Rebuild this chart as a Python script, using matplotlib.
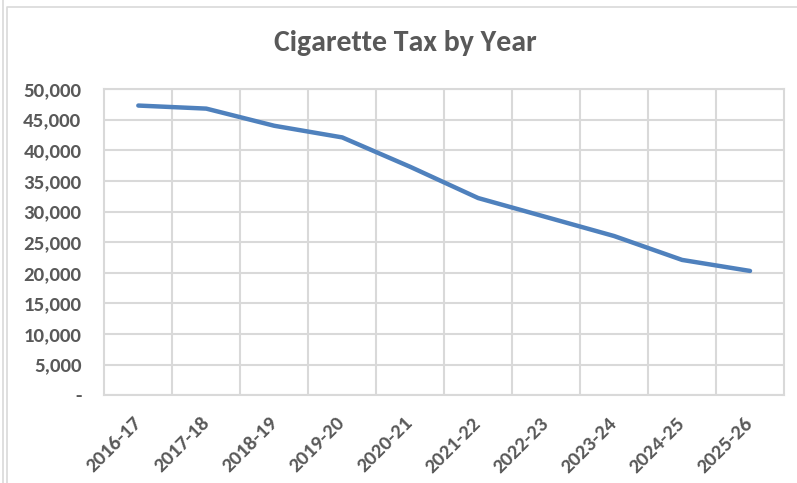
import matplotlib
matplotlib.use("Agg")
import matplotlib.pyplot as plt
from matplotlib.lines import Line2D
from matplotlib.ticker import FuncFormatter, MultipleLocator

# cigarette tax revenue by fiscal year
years = ["2016-17", "2017-18", "2018-19", "2019-20", "2020-21",
         "2021-22", "2022-23", "2023-24", "2024-25", "2025-26"]
tax = [47300, 46800, 44000, 42100, 37300, 32200, 29100, 26000, 22100, 20300]

text_col = "#595959"
grid_col = "#d9d9d9"
plt.rcParams["font.family"] = ["Carlito", "DejaVu Sans"]
plt.rcParams["font.weight"] = "bold"

fig = plt.figure(figsize=(7.97, 4.83), dpi=100)
ax = fig.add_axes([0.1309, 0.1816, 0.8528, 0.6341])

x = list(range(len(years)))
ax.plot(x, tax, color="#4f81bd", lw=3.2, solid_capstyle="round", solid_joinstyle="round", zorder=3)

ax.set_xlim(-0.5, len(years) - 0.5)
ax.set_ylim(0, 50000)
ax.yaxis.set_major_locator(MultipleLocator(5000))
ax.yaxis.set_major_formatter(FuncFormatter(lambda v, p: "-" if v == 0 else f"{v:,.0f}"))
ax.set_xticks(x)
ax.set_xticklabels(years)
ax.set_xticks([i + 0.5 for i in x[:-1]], minor=True)

ax.grid(True, axis="y", which="major", color=grid_col, lw=1.5)
ax.grid(True, axis="x", which="minor", color=grid_col, lw=1.5)
ax.tick_params(axis="both", which="both", length=0)
ax.tick_params(axis="y", pad=16.5, labelsize=15, labelcolor=text_col)
ax.tick_params(axis="x", pad=18, labelsize=15, labelcolor=text_col)
for lab in ax.get_xticklabels() + ax.get_yticklabels():
    lab.set_fontweight("bold")
for lab in ax.get_xticklabels():
    lab.set_rotation(45)
    lab.set_ha("right")
    lab.set_va("center")
    lab.set_rotation_mode("anchor")
for s in ax.spines.values():
    s.set_color(grid_col)
    s.set_linewidth(1.5)

fig.text(0.508, 0.911, "Cigarette Tax by Year", ha="center", va="center",
         fontsize=21.5, fontweight="bold", color=text_col)

# chart frame
fig.add_artist(Line2D([2.5 / 797, 2.5 / 797], [0, 1], color="#d9d9d9", lw=1.2))
fig.add_artist(Line2D([6.5 / 797, 6.5 / 797, 1], [0, 1 - 6.5 / 483, 1 - 6.5 / 483],
                      color="#d9d9d9", lw=1.2))

fig.savefig("out.png", dpi=100)
